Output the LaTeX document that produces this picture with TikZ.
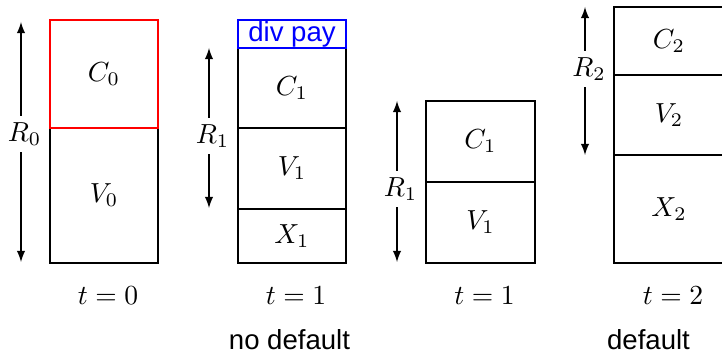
\documentclass[tikz,border=0pt]{standalone}
\usepackage{fontspec}
\setsansfont{Liberation Sans}
\begin{document}
\begin{tikzpicture}[x=0.3627pt,y=-0.3627pt,
  cell/.style={draw=black, line width=0.4pt, minimum width=108*0.3627pt, inner sep=0pt, outer sep=0pt},
  dimarrow/.style={<->, >=latex, line width=0.4pt},
  dimlab/.style={fill=white, inner sep=2.5pt},
  caption/.style={font=\sffamily},
  tlab/.style={inner sep=0pt}]
\useasboundingbox (0,0) rectangle (722,358);
% t = 0
\node[cell, minimum height=135*0.3627pt] (V0) at (104,195.5) {$V_0$};
\node[cell, draw=red, minimum height=108*0.3627pt] (C0) at (104,74) {$C_0$};
\coordinate (R0t) at (21,22);
\coordinate (R0b) at (21,262);
\draw[dimarrow] (R0t) -- (R0b);
\node[dimlab] (R0) at (24.5,134) {$R_0$};
\node[tlab] (T0) at (108,296) {$t=0$};
% t = 1 (no default)
\node[cell, minimum height=80*0.3627pt] (C1a) at (292,88) {$C_1$};
\node[cell, minimum height=81*0.3627pt] (V1a) at (292,168.5) {$V_1$};
\node[cell, minimum height=54*0.3627pt] (X1a) at (292,236) {$X_1$};
\node[cell, draw=blue, text=blue, font=\sffamily, minimum height=28*0.3627pt] (div) at (292,34) {div pay};
\coordinate (R1at) at (209,48);
\coordinate (R1ab) at (209,208);
\draw[dimarrow] (R1at) -- (R1ab);
\node[dimlab] (R1a) at (212.5,136) {$R_1$};
\node[tlab] (T1a) at (296,296) {$t=1$};
% t = 1 (second)
\node[cell, minimum width=109*0.3627pt, minimum height=81*0.3627pt] (C1b) at (480.5,141.5) {$C_1$};
\node[cell, minimum width=109*0.3627pt, minimum height=81*0.3627pt] (V1b) at (480.5,222.5) {$V_1$};
\coordinate (R1bt) at (397,101);
\coordinate (R1bb) at (397,262);
\draw[dimarrow] (R1bt) -- (R1bb);
\node[dimlab] (R1b) at (400.5,189) {$R_1$};
\node[tlab] (T1b) at (484.5,296) {$t=1$};
% t = 2 (default)
\node[cell, minimum width=110*0.3627pt, minimum height=68*0.3627pt] (C2) at (669,41) {$C_2$};
\node[cell, minimum width=110*0.3627pt, minimum height=80*0.3627pt] (V2) at (669,115) {$V_2$};
\node[cell, minimum width=110*0.3627pt, minimum height=108*0.3627pt] (X2) at (669,209) {$X_2$};
\coordinate (R2t) at (585,7);
\coordinate (R2b) at (585,155);
\draw[dimarrow] (R2t) -- (R2b);
\node[dimlab] (R2) at (589,69) {$R_2$};
\node[tlab] (T2) at (673,296) {$t=2$};
% captions
\node[caption] (nodef) at (289.5,340) {no default};
\node[caption] (def) at (648.5,340) {default};
\end{tikzpicture}
\end{document}
